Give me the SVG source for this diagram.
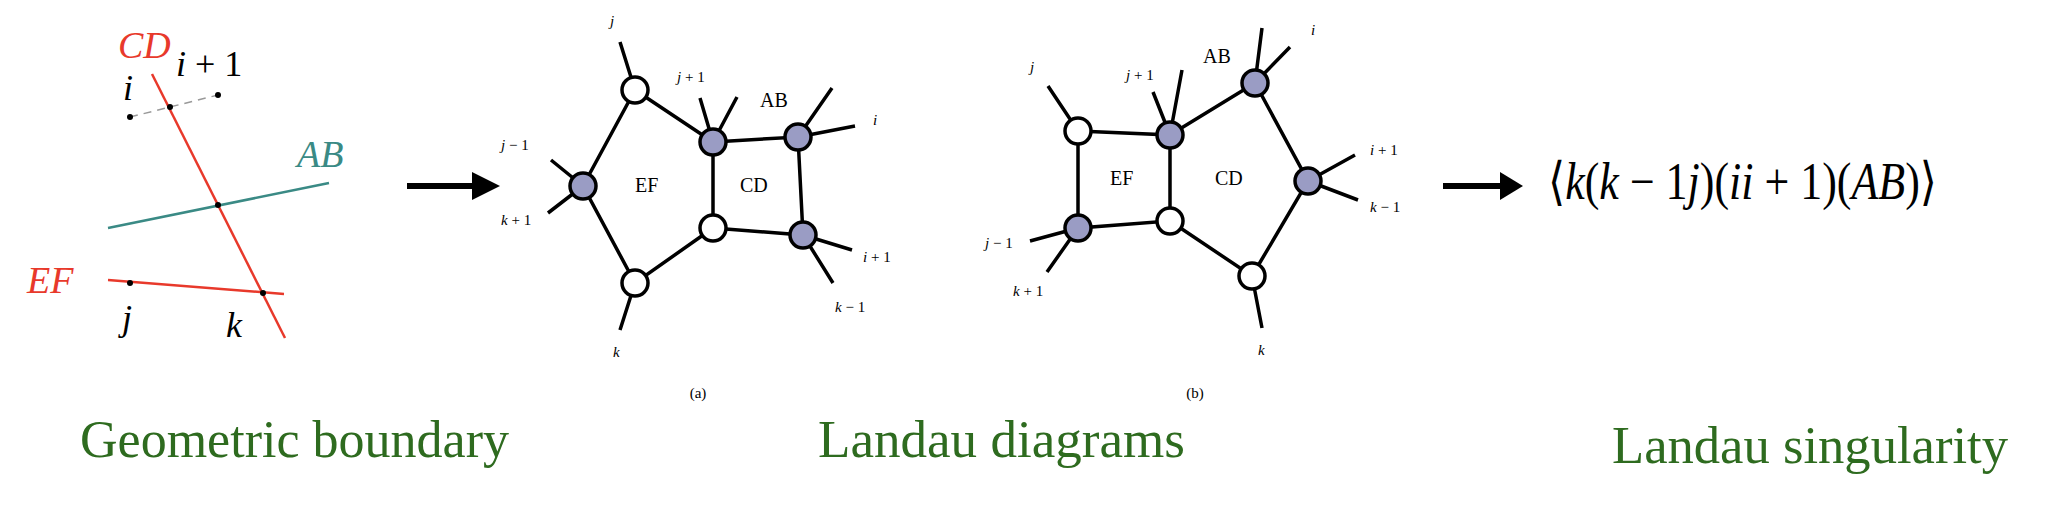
<svg xmlns="http://www.w3.org/2000/svg" width="2058" height="512" viewBox="0 0 2058 512" font-family="'Liberation Serif', 'DejaVu Serif', serif">
<style>
text{font-family:'Liberation Serif','DejaVu Serif',serif}
.it{font-style:italic}
.red{fill:#e8392b}
.teal{fill:#3a8a85}
.cap{fill:#2e6b1f;font-size:52px}
.e{stroke:#000;stroke-width:3.5;fill:none}
.w{fill:#fff;stroke:#000;stroke-width:3.5}
.f{fill:#9a9cc4;stroke:#000;stroke-width:3.5}
.sl{font-size:15px}
.rl{font-size:20px}
</style>
<g id="geometry">
<line x1="130" y1="117" x2="218" y2="95" stroke="#999" stroke-width="1.5" stroke-dasharray="8,6"/>
<line x1="152" y1="74" x2="285" y2="338" stroke="#e8392b" stroke-width="2.5"/>
<line x1="108" y1="228" x2="329" y2="183" stroke="#3a8a85" stroke-width="2.5"/>
<line x1="108" y1="280" x2="284" y2="294" stroke="#e8392b" stroke-width="2.5"/>
<g fill="#000"><circle cx="130" cy="117" r="3"/><circle cx="170" cy="107" r="3"/><circle cx="218" cy="95" r="3"/><circle cx="218" cy="205" r="3"/><circle cx="130" cy="283" r="3"/><circle cx="263" cy="293" r="3"/></g>
<text x="118" y="58" class="it red" font-size="38">CD</text>
<text x="176" y="76" font-size="36"><tspan class="it">i</tspan> + 1</text>
<text x="123" y="100" class="it" font-size="36">i</text>
<text x="297" y="167" class="it teal" font-size="38">AB</text>
<text x="27" y="293" class="it red" font-size="38">EF</text>
<text x="122" y="330" class="it" font-size="36">j</text>
<text x="226" y="337" class="it" font-size="36">k</text>
</g>
<g id="connectors">
<path d="M407 186H474" stroke="#000" stroke-width="6"/><path d="M472 172L500 186L472 200Z"/>
<path d="M1443 186H1502" stroke="#000" stroke-width="6"/><path d="M1500 172L1523 186L1500 200Z"/>
<g class="e">
<path d="M635 90L583 186L635 283L713 228L713 142L635 90M713 142L798 137L803 235L713 228"/>
<path d="M635 90L620 42M583 186L551 160M583 186L548 213M713 142L700 98M713 142L737 97M798 137L832 88M798 137L855 126M803 235L852 250M803 235L833 283M635 283L620 330"/>
<path d="M1078 131L1170 135L1170 221L1078 228Z M1170 135L1255 83L1308 181L1252 276L1170 221"/>
<path d="M1078 131L1048 86M1170 135L1153 92M1170 135L1182 70M1255 83L1262 28M1255 83L1290 47M1308 181L1355 155M1308 181L1358 200M1078 228L1030 241M1078 228L1047 272M1252 276L1262 328"/>
</g>
</g>
<g id="diagram-a">
<circle class="w" cx="635" cy="90" r="13"/>
<circle class="f" cx="583" cy="186" r="13"/>
<circle class="f" cx="713" cy="142" r="13"/>
<circle class="f" cx="798" cy="137" r="13"/>
<circle class="w" cx="713" cy="228" r="13"/>
<circle class="f" cx="803" cy="235" r="13"/>
<circle class="w" cx="635" cy="283" r="13"/>
<text x="610" y="26" class="sl it">j</text>
<text x="501" y="150" class="sl"><tspan class="it">j</tspan> − 1</text>
<text x="501" y="225" class="sl"><tspan class="it">k</tspan> + 1</text>
<text x="677" y="82" class="sl"><tspan class="it">j</tspan> + 1</text>
<text x="873" y="125" class="sl it">i</text>
<text x="863" y="262" class="sl"><tspan class="it">i</tspan> + 1</text>
<text x="835" y="312" class="sl"><tspan class="it">k</tspan> − 1</text>
<text x="613" y="357" class="sl it">k</text>
<text x="760" y="107" class="rl">AB</text>
<text x="635" y="192" class="rl">EF</text>
<text x="740" y="192" class="rl">CD</text>
<text x="698" y="398" class="sl" text-anchor="middle">(a)</text>
</g>
<g id="diagram-b">
<circle class="w" cx="1078" cy="131" r="13"/>
<circle class="f" cx="1170" cy="135" r="13"/>
<circle class="f" cx="1255" cy="83" r="13"/>
<circle class="f" cx="1308" cy="181" r="13"/>
<circle class="w" cx="1170" cy="221" r="13"/>
<circle class="f" cx="1078" cy="228" r="13"/>
<circle class="w" cx="1252" cy="276" r="13"/>
<text x="1030" y="72" class="sl it">j</text>
<text x="1126" y="80" class="sl"><tspan class="it">j</tspan> + 1</text>
<text x="1311" y="35" class="sl it">i</text>
<text x="1203" y="63" class="rl">AB</text>
<text x="1370" y="155" class="sl"><tspan class="it">i</tspan> + 1</text>
<text x="1370" y="212" class="sl"><tspan class="it">k</tspan> − 1</text>
<text x="985" y="248" class="sl"><tspan class="it">j</tspan> − 1</text>
<text x="1013" y="296" class="sl"><tspan class="it">k</tspan> + 1</text>
<text x="1258" y="355" class="sl it">k</text>
<text x="1110" y="185" class="rl">EF</text>
<text x="1215" y="185" class="rl">CD</text>
<text x="1195" y="398" class="sl" text-anchor="middle">(b)</text>
</g>
<g id="formula">
<text x="1548" y="199" font-size="52" textLength="389" lengthAdjust="spacingAndGlyphs">⟨<tspan class="it">k</tspan>(<tspan class="it">k</tspan> − 1<tspan class="it">j</tspan>)(<tspan class="it">ii</tspan> + 1)(<tspan class="it">AB</tspan>)⟩</text>
</g>
<g id="captions">
<text x="80" y="457" class="cap" textLength="429" lengthAdjust="spacingAndGlyphs">Geometric boundary</text>
<text x="818" y="457" class="cap" textLength="367" lengthAdjust="spacingAndGlyphs">Landau diagrams</text>
<text x="1612" y="463" class="cap" textLength="396" lengthAdjust="spacingAndGlyphs">Landau singularity</text>
</g>
</svg>
